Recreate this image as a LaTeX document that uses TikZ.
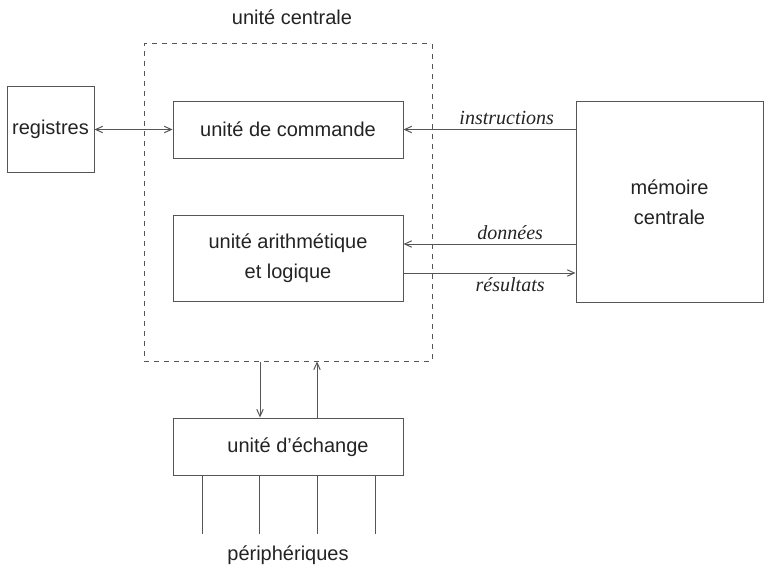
\documentclass[tikz,border=0pt]{standalone}
\usepackage{fontspec}
\setmainfont{Liberation Sans}
\newfontfamily\flowfont{Liberation Serif}
\usetikzlibrary{arrows.meta,positioning}
\definecolor{ink}{RGB}{35,35,35}
\definecolor{wire}{RGB}{85,85,85}
\tikzset{
  unitbox/.style={draw=wire, line width=0.5pt, text=ink, inner sep=0pt, align=center},
  link/.style={draw=wire, line width=0.5pt},
  flow/.style={link, -{Straight Barb[length=3.5pt,width=3.2pt]}},
  flowlabel/.style={text=ink, font=\flowfont\itshape, inner sep=2pt}
}

\begin{document}
\begin{tikzpicture}[x=0.5pt, y=-0.5pt, font=\fontsize{10}{15}\selectfont]
  \useasboundingbox (0,0) rectangle (769,567);

  \node[unitbox, dash pattern=on 2.5pt off 2.5pt, minimum width=144pt, minimum height=158.5pt] (uc) at (288,202.5) {};
  \node[text=ink] (uclabel) at (292,17) {unité centrale};

  \node[unitbox, minimum width=43.5pt, minimum height=43pt] (reg) at (50.5,129.5) {registres};
  \node[unitbox, minimum width=115pt, minimum height=28.5pt] (cmd) at (288,129.5) {unité de commande};
  \node[unitbox, minimum width=115pt, minimum height=43pt] (alu) at (288,258) {unité arithmétique\\et logique};
  \node[unitbox, minimum width=93.5pt, minimum height=100.5pt] (mem) at (669.5,202) {mémoire\\centrale};
  \node[unitbox, minimum width=115pt, minimum height=28.5pt] (ech) at (288,446.5) {};
  \node[text=ink] (echlabel) at (298,447) {unité d'échange};

  \draw[link, {Straight Barb[length=3.5pt,width=3.2pt]}-{Straight Barb[length=3.5pt,width=3.2pt]}] (reg.east) -- (cmd.west);

  \coordinate (dat) at ([yshift=7pt]alu.east);
  \coordinate (res) at ([yshift=-7.5pt]alu.east);
  \draw[flow] (mem.west |- cmd.east) -- node[flowlabel, above, pos=0.40] {instructions} (cmd.east);
  \draw[flow] (mem.west |- dat) -- node[flowlabel, above, pos=0.38] {données} (dat);
  \draw[flow] (res) -- node[flowlabel, below, pos=0.62] {résultats} (mem.west |- res);

  \coordinate (down) at ([xshift=-14pt]ech.north);
  \coordinate (up) at ([xshift=14.5pt]ech.north);
  \draw[flow] (uc.south -| down) -- (down);
  \draw[flow] (up) -- (uc.south -| up);

  \foreach \dx in {-43,-14.5,14.5,43.5}
    \draw[link] ([xshift=\dx pt]ech.south) -- ++(0,58);
  \node[text=ink] (perlabel) at (288,555) {périphériques};
\end{tikzpicture}
\end{document}
